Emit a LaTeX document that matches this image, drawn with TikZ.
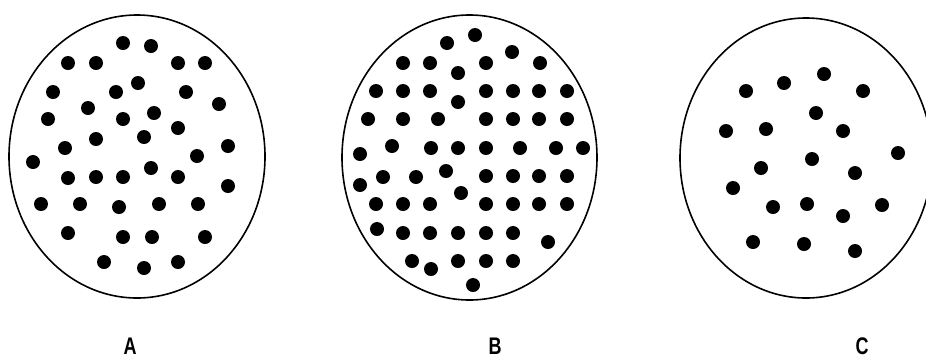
\documentclass[tikz,border=0pt]{standalone}
\usepackage{fontspec}
\setsansfont{Liberation Sans}
\usepackage{tikz}

\begin{document}
\begin{tikzpicture}[x=1pt, y=-1pt,
        contour/.style={draw=black, line width=1.6pt},
        dot/.style={fill=black},
        lettre/.style={font=\sffamily\bfseries\fontsize{24}{28}\selectfont, inner sep=0pt}
    ]
        \useasboundingbox (0,0) rectangle (926,360);

        % Contours des trois échantillons
        \draw[contour] (137,156.5) ellipse (128 and 141.5);
        \draw[contour] (469.5,157.5) ellipse (127.5 and 142.5);
        \draw[contour] (806,158) ellipse (126 and 140);

        % Points: échantillon A
        \foreach \px/\py in {123/43, 151/46, 68/63, 96/63, 178/63, 205/63,
                53/92, 116/92, 138/83, 186/92, 219/104, 88/108, 48/119,
                123/119, 154/113, 178/128, 96/139, 144/137, 65/148, 228/146,
                33/162, 197/156, 68/178, 96/177, 123/177, 151/168, 178/177,
                228/186, 41/204, 80/204, 119/207, 159/204, 198/204, 68/233,
                123/237, 152/237, 205/237, 104/262, 144/268, 178/262}
            \fill[dot] (\px,\py) circle (7);

        % Points: échantillon B
        \foreach \px/\py in {447/43, 475/35, 512/52, 403/63, 430/63, 458/73,
                486/63, 540/63, 376/91, 403/91, 430/91, 458/102, 486/91,
                513/91, 539/91, 567/91, 368/119, 403/119, 438/119, 486/119,
                513/119, 539/119, 567/119, 360/154, 392/146, 431/148, 458/148,
                486/148, 520/148, 556/148, 583/148, 360/185, 383/177, 416/177,
                446/171, 461/193, 486/176, 513/176, 539/176, 567/176, 376/204,
                403/204, 430/204, 486/204, 513/204, 539/204, 567/204, 377/229,
                403/233, 430/233, 458/233, 486/233, 513/233, 548/242, 412/261,
                431/269, 458/261, 486/261, 513/261, 473/285}
            \fill[dot] (\px,\py) circle (7);

        % Points: échantillon C
        \foreach \px/\py in {746/91, 784/83, 824/74, 863/91, 816/113, 726/131,
                766/129, 843/131, 898/153, 812/159, 761/168, 855/173, 733/188,
                773/207, 807/204, 843/216, 882/205, 753/242, 804/244, 855/251}
            \fill[dot] (\px,\py) circle (7);

        % Étiquettes
        \node[lettre] (labA) at (130,346) {\scalebox{0.75}[1]{A}};
        \node[lettre] (labB) at (495,346) {\scalebox{0.75}[1]{B}};
        \node[lettre] (labC) at (862,346) {\scalebox{0.75}[1]{C}};
    \end{tikzpicture}
\end{document}
